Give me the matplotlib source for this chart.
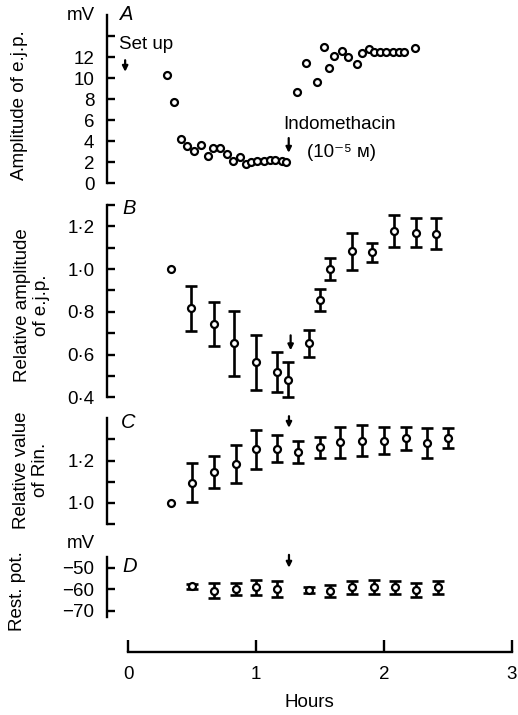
import numpy as np
import matplotlib
matplotlib.use("Agg")
import matplotlib.pyplot as plt

plt.rcParams['font.family'] = ['Liberation Sans', 'DejaVu Sans']
FS = 13.5
plt.rcParams['font.size'] = FS

# ---------------- data ----------------
A_hours = [0.30, 0.36, 0.41, 0.46, 0.51, 0.57, 0.62, 0.66, 0.72, 0.77, 0.82, 0.87, 0.92,
           0.96, 1.01, 1.06, 1.11, 1.15, 1.20, 1.23,
           1.32, 1.39, 1.48, 1.53, 1.57, 1.61, 1.67, 1.72, 1.79, 1.83, 1.88, 1.92, 1.97,
           2.02, 2.07, 2.12, 2.16, 2.24]
A_mv = [10.3, 7.7, 4.2, 3.5, 3.1, 3.6, 2.6, 3.4, 3.4, 2.8, 2.1, 2.5, 1.8,
        2.0, 2.1, 2.1, 2.2, 2.2, 2.1, 2.0,
        8.7, 11.4, 9.6, 13.0, 11.0, 12.1, 12.6, 12.0, 11.3, 12.4, 12.8, 12.5, 12.45,
        12.45, 12.45, 12.45, 12.45, 12.9]

B_hours = [0.33, 0.49, 0.67, 0.83, 1.00, 1.16, 1.25, 1.41, 1.50, 1.58, 1.75, 1.91, 2.08, 2.25, 2.41]
B_rel = [1.0, 0.816, 0.743, 0.652, 0.564, 0.518, 0.482, 0.652, 0.854, 1.0, 1.083, 1.078, 1.179, 1.171, 1.166]
B_sem = [0.0, 0.105, 0.105, 0.152, 0.129, 0.092, 0.082, 0.065, 0.052, 0.05, 0.085, 0.045, 0.074, 0.069, 0.072]

C_hours = [0.33, 0.50, 0.67, 0.84, 1.00, 1.16, 1.33, 1.50, 1.66, 1.83, 2.00, 2.17, 2.34, 2.50]
C_rin = [1.0, 1.095, 1.148, 1.183, 1.254, 1.257, 1.241, 1.262, 1.286, 1.294, 1.294, 1.306, 1.283, 1.306]
C_sem = [0.0, 0.093, 0.076, 0.09, 0.092, 0.066, 0.052, 0.048, 0.074, 0.074, 0.063, 0.055, 0.073, 0.047]

D_hours = [0.50, 0.67, 0.84, 1.00, 1.16, 1.41, 1.58, 1.75, 1.92, 2.09, 2.25, 2.42]
D_mv = [-58.7, -60.7, -59.9, -59.2, -59.9, -60.4, -60.7, -59.2, -59.0, -59.2, -60.4, -59.2]
D_sem = [1.2, 3.5, 2.6, 3.4, 3.6, 1.5, 2.8, 3.2, 3.2, 3.2, 3.2, 3.2]

A_ticks = [0, 2, 4, 6, 8, 10, 12, 14]
A_ticklabels = ['0', '2', '4', '6', '8', '10', '12', '']
B_ticks = [0.4, 0.5, 0.6, 0.7, 0.8, 0.9, 1.0, 1.1, 1.2, 1.3]
B_ticklabels = ['0·4', '', '0·6', '', '0·8', '', '1·0', '', '1·2', '']
C_ticks = [0.9, 1.0, 1.1, 1.2, 1.3]
C_ticklabels = ['', '1·0', '', '1·2', '']
D_ticks = [-70, -60, -50]
D_ticklabels = ['−70', '−60', '−50']
X_ticks = [0, 1, 2, 3]
X_ticklabels = ['0', '1', '2', '3']

# ---------------- layout ----------------
W, H = 518, 715
fig = plt.figure(figsize=(W / 100, H / 100), dpi=100)

def rect(top_px, bot_px, left_px=107, right_px=511.7):
    return [left_px / W, 1 - bot_px / H, (right_px - left_px) / W, (bot_px - top_px) / H]

axA = fig.add_axes(rect(15, 183.3))
axB = fig.add_axes(rect(205, 397.3))
axC = fig.add_axes(rect(418.3, 524))
axD = fig.add_axes(rect(557, 617))
axX = fig.add_axes(rect(600, 652))

XLIM = (-0.167, 3.0)
LW = 1.7

def style(ax, ylim, ticks, labels):
    ax.set_xlim(*XLIM)
    ax.set_ylim(*ylim)
    for s in ['top', 'right', 'bottom']:
        ax.spines[s].set_visible(False)
    ax.spines['left'].set_linewidth(LW)
    ax.set_xticks([])
    ax.set_yticks(ticks)
    ax.set_yticklabels(labels)
    ax.tick_params(axis='y', direction='in', length=6, width=LW, pad=9, labelsize=FS)
    ax.patch.set_visible(False)

style(axA, (0, 16), A_ticks, A_ticklabels)
style(axB, (0.4, 1.3), B_ticks, B_ticklabels)
style(axC, (0.9, 1.4), C_ticks, C_ticklabels)
style(axD, (-73, -45), D_ticks, D_ticklabels)

mk = dict(marker='o', ms=5.0, mfc='white', mec='black', mew=1.6, ls='none', zorder=3)
eb = dict(fmt='none', ecolor='black', elinewidth=1.9, capsize=4, capthick=1.9, zorder=2)

def err_panel(ax, x, y, e):
    x = np.asarray(x); y = np.asarray(y); e = np.asarray(e)
    m = e > 0
    ax.errorbar(x[m], y[m], yerr=e[m], clip_on=False, **eb)
    ax.plot(x, y, clip_on=False, **mk)

axA.plot(A_hours, A_mv, clip_on=False, **mk)
err_panel(axB, B_hours, B_rel, B_sem)
err_panel(axC, C_hours, C_rin, C_sem)
err_panel(axD, D_hours, D_mv, D_sem)

# bottom time axis
axX.set_xlim(*XLIM)
axX.set_ylim(0, 1)
for s in ['top', 'right', 'left']:
    axX.spines[s].set_visible(False)
axX.spines['bottom'].set_linewidth(LW)
axX.spines['bottom'].set_bounds(0, 3)
axX.set_yticks([])
axX.set_xticks(X_ticks)
axX.set_xticklabels(X_ticklabels)
axX.tick_params(axis='x', direction='in', length=9, width=LW, pad=10, labelsize=FS)
axX.patch.set_visible(False)
axX.set_xlabel('Hours', fontsize=FS, labelpad=8)

# arrows
arrow = dict(arrowstyle='-|>', lw=1.6, color='black', mutation_scale=8, shrinkA=0, shrinkB=0)
def down_arrow(ax, x, y0, y1):
    ax.annotate('', xy=(x, y1), xytext=(x, y0), arrowprops=arrow, annotation_clip=False)

down_arrow(axA, -0.025, 11.7, 10.6)
down_arrow(axA, 1.255, 4.3, 2.9)
down_arrow(axB, 1.27, 0.69, 0.62)
down_arrow(axC, 1.257, 1.41, 1.355)
down_arrow(axD, 1.257, -44.0, -50.0)

# annotations text
axA.text(-0.07, 13.2, 'Set up', fontsize=FS, ha='left', va='center')
axA.text(1.215, 5.6, 'Indomethacin', fontsize=FS, ha='left', va='center')
axA.text(1.395, 2.9, '(10⁻⁵ ᴍ)', fontsize=FS, ha='left', va='center')

# panel letters
def px(x, y):
    return x / W, 1 - y / H

fig.text(*px(120, 14), 'A', fontsize=FS + 1, style='italic', ha='left', va='center')
fig.text(*px(122, 208), 'B', fontsize=FS + 1, style='italic', ha='left', va='center')
fig.text(*px(121, 423), 'C', fontsize=FS + 1, style='italic', ha='left', va='center')
fig.text(*px(122, 567), 'D', fontsize=FS + 1, style='italic', ha='left', va='center')
fig.text(*px(95, 15), 'mV', fontsize=FS, ha='right', va='center')
fig.text(*px(95, 543), 'mV', fontsize=FS, ha='right', va='center')

# y labels
fig.text(*px(20, 105), 'Amplitude of e.j.p.', fontsize=FS, rotation=90, ha='center', va='center')
fig.text(*px(32, 305), 'Relative amplitude\nof e.j.p.', fontsize=FS, rotation=90,
         ha='center', va='center', multialignment='center', linespacing=1.1)
fig.text(*px(31, 470), 'Relative value\nof Rin.', fontsize=FS, rotation=90,
         ha='center', va='center', multialignment='center', linespacing=1.1)
fig.text(*px(18, 591), 'Rest. pot.', fontsize=FS, rotation=90, ha='center', va='center')

fig.savefig('out.png', dpi=100, facecolor='white')
